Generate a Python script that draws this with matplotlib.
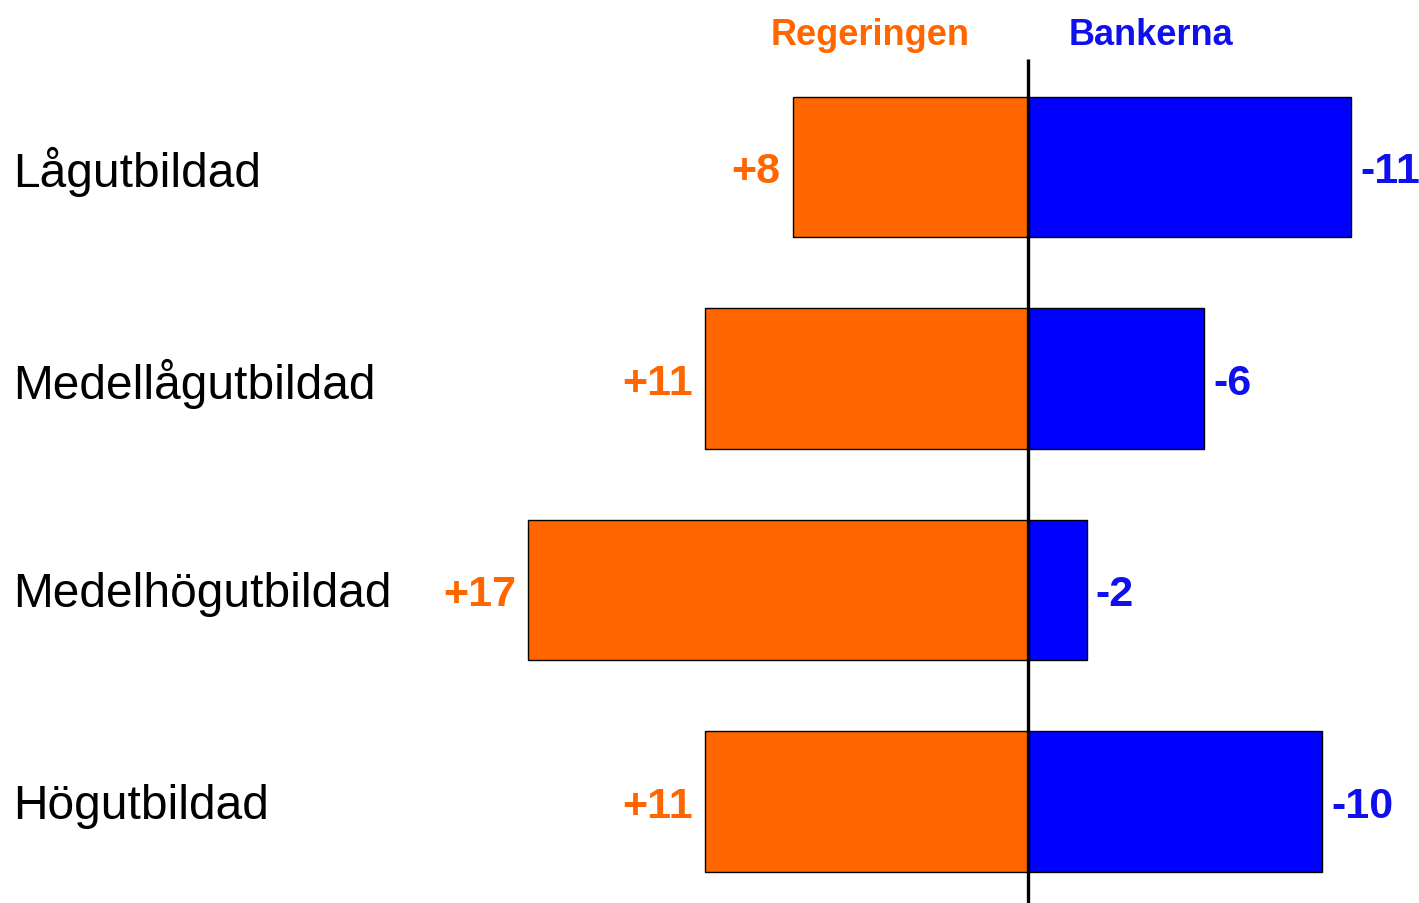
import matplotlib
matplotlib.use('Agg')
import matplotlib.pyplot as plt

# data
categories = ['Lågutbildad', 'Medellågutbildad', 'Medelhögutbildad', 'Högutbildad']
regeringen = [8, 11, 17, 11]
bankerna = [-11, -6, -2, -10]
seriesNames = ['Regeringen', 'Bankerna']

orange = '#FF6600'
blue = '#0000FF'
blueText = '#1010EE'

plt.rcParams['font.family'] = ['Liberation Sans', 'DejaVu Sans']

fig = plt.figure(figsize=(14.19, 9.04), dpi=100)
ax = fig.add_axes([0, 0, 1, 1])

pxPerUnit = 29.4
centerPx = 1028
ax.set_xlim(-centerPx / pxPerUnit, (1419 - centerPx) / pxPerUnit)
rowPx = 211.5
firstPx = 168
ax.set_ylim((904 - firstPx) / rowPx, -firstPx / rowPx)

ypos = list(range(len(categories)))
leftVals = [-v for v in regeringen]
rightVals = [abs(v) for v in bankerna]

ax.barh(ypos, leftVals, height=0.662, color=orange, edgecolor='black', linewidth=1.0)
ax.barh(ypos, rightVals, height=0.662, color=blue, edgecolor='black', linewidth=1.0)

# centre line
ax.plot([0, 0], [(60 - firstPx) / rowPx, (904 - firstPx) / rowPx], color='black',
        linewidth=2.4, solid_capstyle='butt', zorder=5)

gapL = 12 / pxPerUnit
gapR = 9 / pxPerUnit
for y, l, r, lv, rv in zip(ypos, leftVals, rightVals, regeringen, bankerna):
    ax.text(l - gapL, y, '+{}'.format(lv), ha='right', va='center_baseline',
            fontsize=31, fontweight='bold', color=orange)
    ax.text(r + gapR, y, '{}'.format(rv), ha='left', va='center_baseline',
            fontsize=31, fontweight='bold', color=blueText)

xLeftLabel = (13 - centerPx) / pxPerUnit
for y, c in zip(ypos, categories):
    ax.text(xLeftLabel, y - 1 / rowPx, c, ha='left', va='center_baseline', fontsize=34.5, color='black')

headY = (32 - firstPx) / rowPx
ax.text((870 - centerPx) / pxPerUnit, headY, seriesNames[0], ha='center', va='center_baseline',
        fontsize=26, fontweight='bold', color=orange)
ax.text((1151 - centerPx) / pxPerUnit, headY, seriesNames[1], ha='center', va='center_baseline',
        fontsize=26, fontweight='bold', color=blueText)

ax.axis('off')
fig.savefig('out.png', dpi=100)
plt.close()
